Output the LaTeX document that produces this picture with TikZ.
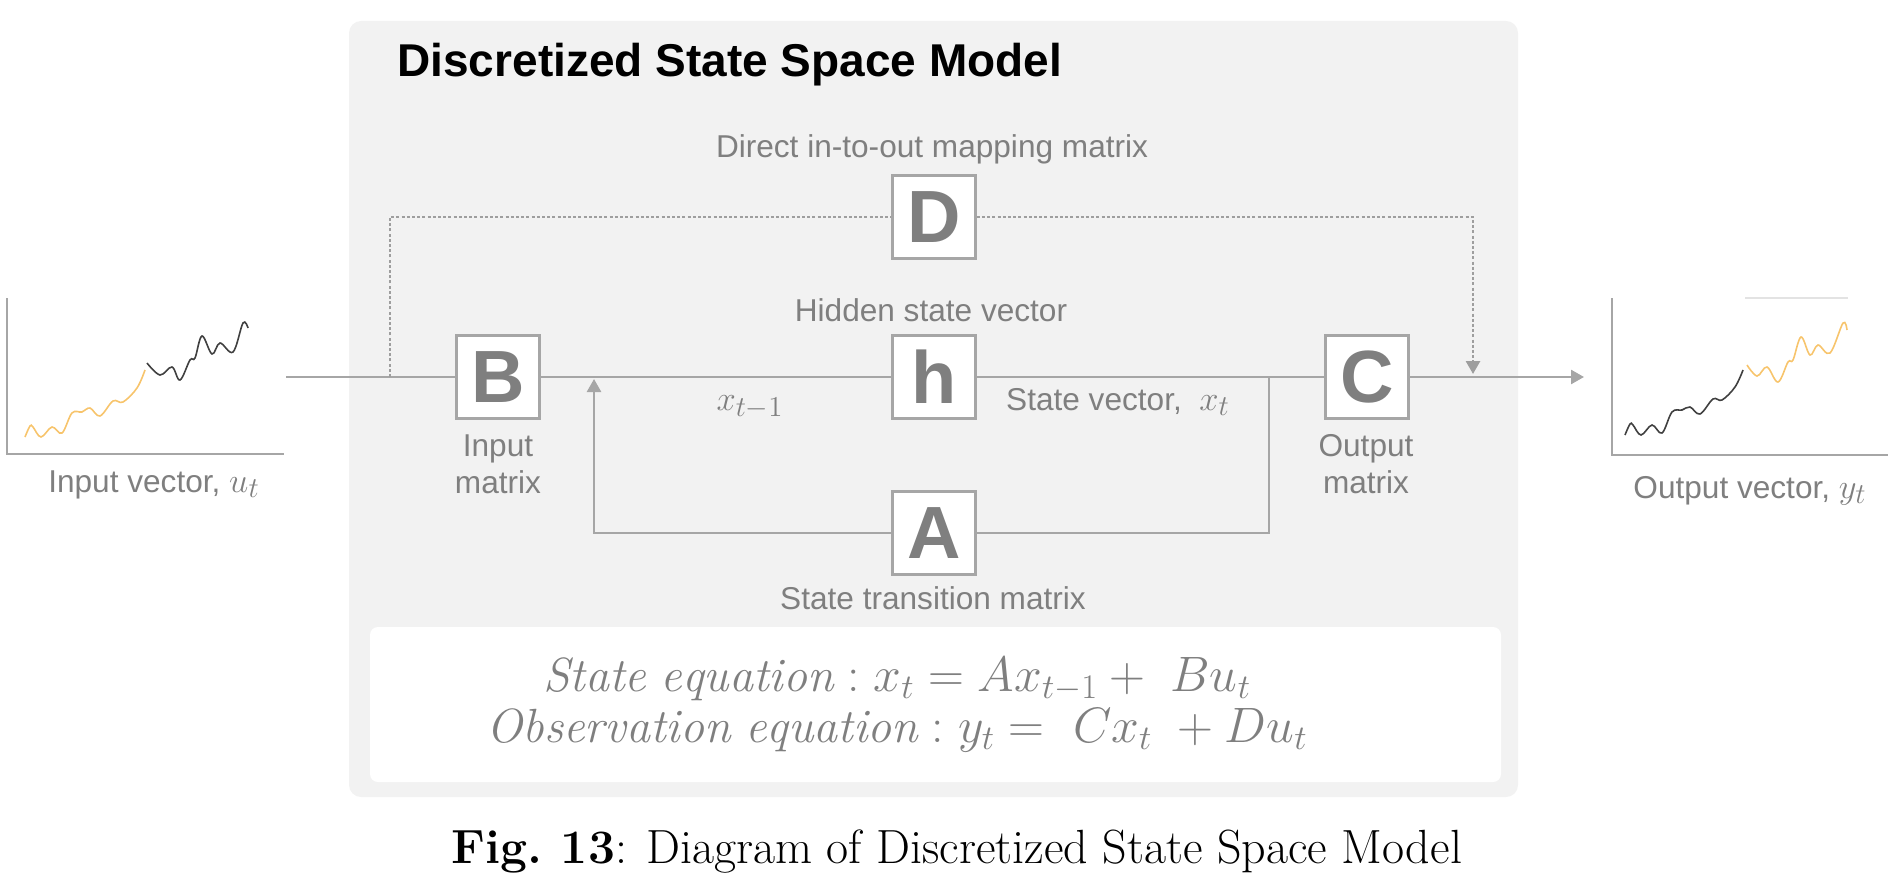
\documentclass[tikz,border=0pt]{standalone}
\usepackage{fontspec}
\setsansfont{Liberation Sans}
\usetikzlibrary{arrows.meta}
\definecolor{panelbg}{HTML}{F2F2F2}
\definecolor{linegray}{HTML}{A6A6A6}
\definecolor{dotgray}{HTML}{9E9E9E}
\definecolor{txtgray}{HTML}{7F7F7F}
\definecolor{sigorange}{HTML}{F7C46C}
\definecolor{sigdark}{HTML}{404040}
\definecolor{faint}{HTML}{E3E3E3}
\newcommand{\lmath}[1]{{\fontsize{19}{19}\selectfont$#1$}}
\begin{document}
\begin{tikzpicture}[x=0.5pt,y=-0.5pt,
  mat/.style={draw=linegray, line width=1.25pt, fill=white, minimum size=41.5pt, inner sep=0pt,
    font=\sffamily\bfseries\fontsize{37}{37}\selectfont, text=txtgray},
  lbl/.style={font=\sffamily\fontsize{15.8}{18.5}\selectfont, text=txtgray, inner sep=0pt},
  conn/.style={draw=linegray, line width=1.25pt},
  dotconn/.style={draw=dotgray, line width=1.4pt, dash pattern=on 1.5pt off 1.1pt},
  tip/.style={-{Triangle[length=6.5pt,width=7pt]}},
  axisline/.style={draw=linegray, line width=1.25pt},
  eqn/.style={anchor=base, text=txtgray, inner sep=0pt, font=\fontsize{24}{28}\selectfont},
]
\useasboundingbox (0,0) rectangle (1898,882);
% panel
\fill[panelbg, rounded corners=6pt] (349,21) rectangle (1518,797);
\fill[white, rounded corners=4pt] (370,627) rectangle (1501,782);
\node[anchor=base west, inner sep=0pt, font=\sffamily\bfseries\fontsize{23}{23}\selectfont] (title) at (397,77) {Discretized State Space Model};

% connector end points
\coordinate (in) at (286,377);
\coordinate (out) at (1584,377);
\coordinate (dl) at (390,377);
\coordinate (dr) at (1473,377);
\coordinate (fr) at (1269,377);
\coordinate (fl) at (594,377);

\node[mat] (D) at (934,217) {D};
\node[mat] (h) at (934,377) {h};
\node[mat] (A) at (934,533) {A};
\node[mat] (B) at (498,377) {B};
\node[mat] (C) at (1367,377) {C};

\draw[conn] (in) -- (B.west);
\draw[conn] (B.east) -- (h.west);
\draw[conn] (h.east) -- (C.west);
\draw[conn, tip] (C.east) -- (out);
\draw[dotconn] (dl) |- (D.west);
\draw[dotconn, tip] (D.east) -| ([yshift=1.5pt]dr);
\draw[conn] (fr) |- (A.east);
\draw[conn, tip] (A.west) -| ([yshift=-1pt]fl);

% labels
\node[lbl, anchor=base] (ldirect) at (932,158) {Direct in-to-out mapping matrix};
\node[lbl, anchor=base] (lhidden) at (931,321) {Hidden state vector};
\node[lbl, anchor=base] (lxprev) at (750,410) {\lmath{x_{t-1}}};
\node[lbl, anchor=base] (lstate) at (1118,410) {State vector,\ \ \lmath{x_t}};
\node[lbl, anchor=base, align=center] (linput) at (498,493) {Input\\matrix};
\node[lbl, anchor=base, align=center] (loutput) at (1366,493) {Output\\matrix};
\node[lbl, anchor=base] (ltrans) at (933,609) {State transition matrix};
\node[lbl, anchor=base] (lin) at (154,492) {Input vector, \lmath{u_t}};
\node[lbl, anchor=base] (lout) at (1750,498) {Output vector, \lmath{y_t}};

% equations
\node[eqn, text depth=0pt] (eq1) at (897,691) {$\mathit{State\ equation} : x_t = Ax_{t-1} +\ Bu_t$};
\node[eqn, text height=16pt] (eq2) at (897,742) {$\mathit{Observation\ equation} : y_t =\ Cx_t\ + Du_t$};

% caption
\node[anchor=base, inner sep=0pt, font=\rmfamily\fontsize{24}{28}\selectfont] (cap) at (957,863) {\textbf{Fig.\ 13}: Diagram of Discretized State Space Model};

% left plot
\draw[axisline] (7,298) -- (7,454) -- (284,454);
\draw[sigorange, line width=0.8pt] plot[smooth, tension=0.6] coordinates {(25,437) (30,426) (33,427) (41,437) (52,427) (62,433) (72,413) (82,412) (90,408) (100,416) (113,401) (123,402) (137,388) (145,370)};
\draw[sigdark, line width=0.8pt] plot[smooth, tension=0.6] coordinates {(147,363) (160,375) (172,367) (180,380) (190,360) (195,358) (202,336) (212,354) (220,343) (233,352) (243,323) (248,328)};

% right plot
\draw[axisline] (1612,298) -- (1612,455) -- (1888,455);
\draw[faint, line width=0.8pt] (1745,298) -- (1848,298);
\draw[sigdark, line width=0.8pt] plot[smooth, tension=0.6] coordinates {(1625,435) (1630,424) (1633,425) (1641,435) (1652,425) (1662,433) (1672,412) (1682,410) (1690,407) (1700,414) (1713,399) (1722,400) (1735,387) (1743,370)};
\draw[sigorange, line width=0.8pt] plot[smooth, tension=0.6] coordinates {(1747,365) (1757,376) (1767,367) (1778,382) (1788,362) (1793,360) (1801,337) (1810,355) (1818,345) (1830,353) (1843,323) (1847,330)};
\end{tikzpicture}
\end{document}
